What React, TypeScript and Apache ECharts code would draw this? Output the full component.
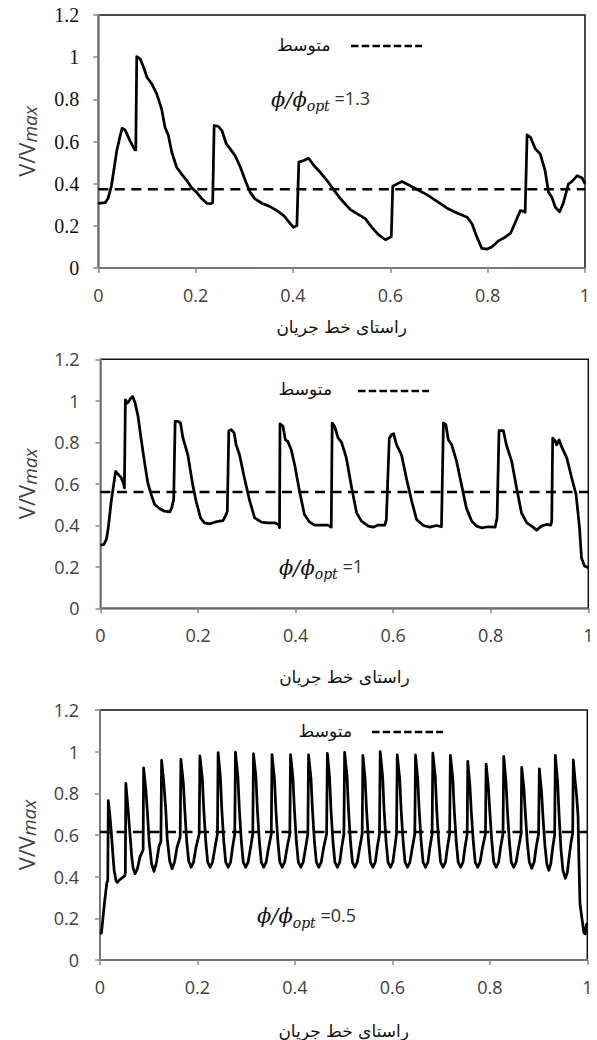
import React, { useEffect, useRef } from 'react';
import * as echarts from 'echarts';

// ---------- data ----------
const xTicks = [0, 0.2, 0.4, 0.6, 0.8, 1];
const yTicks = [0, 0.2, 0.4, 0.6, 0.8, 1, 1.2];
const xAxisTitle = 'راستای خط جریان';
const legendLabel = 'متوسط';
const phiRatios = ['1.3', '1', '0.5'];
const meanValues = [0.374, 0.56, 0.615];

const seriesPhi13: number[][] = [
  [0, 0.307], [0.014, 0.31], [0.02, 0.33], [0.027, 0.39], [0.033, 0.48], [0.038, 0.557], [0.045, 0.628], [0.049, 0.663],
  [0.055, 0.655], [0.065, 0.604], [0.075, 0.56], [0.077, 0.56], [0.079, 1.003], [0.086, 0.992], [0.093, 0.952], [0.1, 0.905],
  [0.11, 0.873], [0.12, 0.826], [0.13, 0.755], [0.137, 0.668], [0.144, 0.628], [0.151, 0.549], [0.161, 0.478], [0.172, 0.443],
  [0.182, 0.415], [0.192, 0.38], [0.202, 0.359], [0.213, 0.328], [0.223, 0.307], [0.231, 0.305], [0.235, 0.31], [0.238, 0.676],
  [0.247, 0.671], [0.254, 0.652], [0.263, 0.589], [0.271, 0.565], [0.281, 0.533], [0.292, 0.478], [0.302, 0.415], [0.312, 0.359],
  [0.322, 0.328], [0.336, 0.307], [0.353, 0.291], [0.367, 0.272], [0.381, 0.248], [0.395, 0.209], [0.401, 0.193], [0.408, 0.201],
  [0.412, 0.502], [0.422, 0.51], [0.432, 0.521], [0.443, 0.486], [0.456, 0.454], [0.47, 0.415], [0.484, 0.37], [0.497, 0.33],
  [0.504, 0.312], [0.518, 0.277], [0.535, 0.253], [0.549, 0.233], [0.562, 0.193], [0.576, 0.157], [0.59, 0.134], [0.6, 0.146],
  [0.602, 0.148], [0.605, 0.388], [0.614, 0.399], [0.624, 0.41], [0.638, 0.394], [0.655, 0.372], [0.675, 0.348], [0.696, 0.316],
  [0.716, 0.285], [0.737, 0.261], [0.758, 0.241], [0.768, 0.209], [0.778, 0.146], [0.788, 0.093], [0.799, 0.09], [0.809, 0.101],
  [0.823, 0.13], [0.836, 0.146], [0.847, 0.165], [0.857, 0.217], [0.867, 0.272], [0.875, 0.269], [0.877, 0.264], [0.881, 0.631],
  [0.888, 0.62], [0.898, 0.565], [0.908, 0.541], [0.918, 0.462], [0.925, 0.359], [0.932, 0.335], [0.939, 0.288], [0.948, 0.267],
  [0.956, 0.312], [0.966, 0.399], [0.973, 0.41], [0.984, 0.438], [0.994, 0.427], [1.0, 0.399],
];

const seriesPhi10: number[][] = [
  [0, 0.304], [0.007, 0.308], [0.012, 0.332], [0.016, 0.388], [0.022, 0.516], [0.027, 0.596], [0.031, 0.66], [0.036, 0.647],
  [0.042, 0.631], [0.047, 0.604], [0.049, 0.58], [0.051, 1.005], [0.055, 0.989], [0.058, 0.997], [0.062, 1.013], [0.066, 1.021],
  [0.071, 0.989], [0.077, 0.925], [0.083, 0.821], [0.09, 0.708], [0.097, 0.604], [0.104, 0.548], [0.111, 0.5], [0.121, 0.481],
  [0.131, 0.468], [0.142, 0.465], [0.146, 0.484], [0.15, 0.524], [0.153, 0.901], [0.159, 0.901], [0.164, 0.893], [0.169, 0.821],
  [0.179, 0.74], [0.189, 0.596], [0.196, 0.516], [0.205, 0.436], [0.213, 0.412], [0.224, 0.407], [0.234, 0.415], [0.244, 0.42],
  [0.251, 0.423], [0.256, 0.444], [0.26, 0.468], [0.263, 0.856], [0.268, 0.861], [0.274, 0.845], [0.278, 0.788], [0.285, 0.74],
  [0.295, 0.628], [0.306, 0.516], [0.316, 0.436], [0.33, 0.415], [0.343, 0.412], [0.357, 0.412], [0.365, 0.404], [0.367, 0.388],
  [0.368, 0.889], [0.374, 0.877], [0.379, 0.812], [0.384, 0.804], [0.391, 0.764], [0.398, 0.692], [0.408, 0.564], [0.418, 0.452],
  [0.429, 0.415], [0.439, 0.401], [0.453, 0.401], [0.466, 0.401], [0.473, 0.391], [0.475, 0.893], [0.48, 0.877], [0.487, 0.821],
  [0.494, 0.801], [0.5, 0.756], [0.504, 0.724], [0.515, 0.58], [0.525, 0.46], [0.535, 0.42], [0.549, 0.396], [0.559, 0.391],
  [0.569, 0.401], [0.583, 0.401], [0.586, 0.428], [0.592, 0.82], [0.597, 0.837], [0.601, 0.841], [0.607, 0.788], [0.617, 0.74],
  [0.627, 0.628], [0.638, 0.516], [0.648, 0.428], [0.662, 0.399], [0.675, 0.391], [0.689, 0.399], [0.699, 0.393], [0.703, 0.893],
  [0.708, 0.885], [0.713, 0.812], [0.72, 0.788], [0.73, 0.708], [0.74, 0.596], [0.75, 0.484], [0.761, 0.42], [0.771, 0.396],
  [0.781, 0.388], [0.795, 0.393], [0.809, 0.391], [0.813, 0.436], [0.817, 0.856], [0.826, 0.856], [0.832, 0.788], [0.843, 0.708],
  [0.853, 0.58], [0.863, 0.46], [0.874, 0.412], [0.884, 0.396], [0.894, 0.377], [0.904, 0.396], [0.914, 0.404], [0.923, 0.401],
  [0.925, 0.42], [0.927, 0.82], [0.932, 0.808], [0.935, 0.788], [0.94, 0.812], [0.945, 0.78], [0.956, 0.724], [0.966, 0.628],
  [0.975, 0.548], [0.982, 0.388], [0.986, 0.244], [0.992, 0.204], [1.0, 0.196],
];

const seriesPhi05: number[][] = [
  [0, 0.125], [0.003, 0.13], [0.006, 0.2], [0.009, 0.27], [0.012, 0.33], [0.014, 0.37], [0.016, 0.38],
  [0.017, 0.765], [0.02, 0.7], [0.023, 0.62], [0.026, 0.52], [0.029, 0.43], [0.033, 0.38], [0.0355, 0.372], [0.04, 0.385], [0.046, 0.395], [0.051, 0.405], [0.052, 0.42],
  [0.053, 0.848], [0.057, 0.74], [0.061, 0.62], [0.065, 0.5], [0.068, 0.44], [0.072, 0.414], [0.077, 0.44], [0.082, 0.495], [0.087, 0.52], [0.0885, 0.53],
  [0.0895, 0.922], [0.094, 0.82], [0.097, 0.72], [0.101, 0.565], [0.106, 0.46], [0.111, 0.425], [0.116, 0.47], [0.121, 0.545], [0.125, 0.57],
  [0.1264, 0.958], [0.131, 0.85], [0.135, 0.72], [0.138, 0.58], [0.143, 0.475], [0.148, 0.438], [0.153, 0.47], [0.158, 0.54], [0.1645, 0.59],
  [0.166, 0.963], [0.171, 0.85], [0.174, 0.72], [0.178, 0.57], [0.182, 0.475], [0.187, 0.445], [0.192, 0.47], [0.197, 0.54], [0.2035, 0.605],
  [0.205, 0.98], [0.21, 0.87], [0.213, 0.72], [0.217, 0.57], [0.221, 0.47], [0.226, 0.445], [0.231, 0.47], [0.236, 0.54], [0.241, 0.605],
  [0.2424, 0.995], [0.247, 0.88], [0.25, 0.72], [0.254, 0.57], [0.258, 0.47], [0.263, 0.445], [0.268, 0.47], [0.272, 0.54], [0.2765, 0.605],
  [0.278, 0.998], [0.283, 0.88], [0.286, 0.72], [0.29, 0.57], [0.294, 0.47], [0.299, 0.445], [0.304, 0.47], [0.309, 0.54], [0.3135, 0.605],
  [0.315, 0.99], [0.32, 0.88], [0.323, 0.72], [0.327, 0.57], [0.331, 0.47], [0.336, 0.445], [0.341, 0.47], [0.346, 0.54], [0.3515, 0.605],
  [0.353, 0.986], [0.358, 0.87], [0.361, 0.72], [0.365, 0.57], [0.369, 0.47], [0.374, 0.445], [0.379, 0.47], [0.384, 0.54], [0.3895, 0.605],
  [0.391, 0.986], [0.396, 0.87], [0.399, 0.72], [0.403, 0.57], [0.407, 0.47], [0.412, 0.445], [0.417, 0.47], [0.422, 0.54], [0.4265, 0.605],
  [0.428, 0.985], [0.433, 0.87], [0.436, 0.72], [0.44, 0.57], [0.444, 0.47], [0.449, 0.445], [0.454, 0.47], [0.459, 0.54], [0.465, 0.605],
  [0.4666, 0.992], [0.471, 0.88], [0.474, 0.72], [0.478, 0.57], [0.482, 0.47], [0.487, 0.445], [0.492, 0.47], [0.496, 0.54], [0.5005, 0.605],
  [0.502, 0.997], [0.507, 0.88], [0.51, 0.72], [0.514, 0.57], [0.518, 0.47], [0.523, 0.445], [0.528, 0.47], [0.533, 0.54], [0.538, 0.605],
  [0.5395, 0.982], [0.544, 0.87], [0.547, 0.72], [0.551, 0.57], [0.555, 0.47], [0.56, 0.445], [0.565, 0.47], [0.569, 0.54], [0.5735, 0.605],
  [0.575, 1.0], [0.58, 0.88], [0.583, 0.72], [0.587, 0.57], [0.591, 0.47], [0.596, 0.445], [0.601, 0.47], [0.605, 0.54], [0.6085, 0.605],
  [0.61, 0.985], [0.615, 0.87], [0.618, 0.72], [0.622, 0.57], [0.626, 0.47], [0.631, 0.445], [0.636, 0.47], [0.641, 0.54], [0.646, 0.605],
  [0.6475, 0.984], [0.652, 0.87], [0.655, 0.72], [0.659, 0.57], [0.663, 0.47], [0.668, 0.445], [0.673, 0.47], [0.677, 0.54], [0.6815, 0.605],
  [0.683, 0.993], [0.688, 0.88], [0.691, 0.72], [0.695, 0.57], [0.699, 0.47], [0.704, 0.445], [0.709, 0.47], [0.713, 0.54], [0.7175, 0.605],
  [0.719, 0.982], [0.724, 0.87], [0.727, 0.72], [0.731, 0.57], [0.735, 0.47], [0.74, 0.445], [0.745, 0.47], [0.749, 0.54], [0.7535, 0.605],
  [0.7547, 0.953], [0.759, 0.84], [0.762, 0.71], [0.766, 0.57], [0.77, 0.47], [0.775, 0.445], [0.78, 0.47], [0.785, 0.54], [0.791, 0.605],
  [0.7924, 0.94], [0.797, 0.83], [0.8, 0.71], [0.804, 0.57], [0.808, 0.47], [0.813, 0.445], [0.818, 0.47], [0.822, 0.54], [0.827, 0.605],
  [0.8285, 0.977], [0.833, 0.86], [0.836, 0.72], [0.84, 0.57], [0.844, 0.47], [0.849, 0.445], [0.854, 0.47], [0.859, 0.54], [0.864, 0.605],
  [0.8654, 0.925], [0.87, 0.82], [0.873, 0.7], [0.877, 0.56], [0.881, 0.47], [0.886, 0.44], [0.891, 0.47], [0.895, 0.54], [0.9, 0.605],
  [0.9016, 0.917], [0.906, 0.81], [0.909, 0.69], [0.913, 0.55], [0.917, 0.46], [0.921, 0.43], [0.925, 0.46], [0.929, 0.54], [0.933, 0.6],
  [0.9344, 0.982], [0.939, 0.86], [0.942, 0.7], [0.946, 0.53], [0.95, 0.43], [0.955, 0.392], [0.959, 0.42], [0.963, 0.5], [0.967, 0.57], [0.97, 0.61],
  [0.9713, 0.96], [0.975, 0.86], [0.978, 0.79], [0.981, 0.69], [0.983, 0.45], [0.985, 0.27], [0.989, 0.2], [0.993, 0.13], [0.996, 0.125], [0.998, 0.17], [1.0, 0.175],
];

const allSeries = [seriesPhi13, seriesPhi10, seriesPhi05];

// ---------- layout ----------
const grids = [
  { left: 98.3, top: 15, width: 486.7, height: 253 },
  { left: 100.5, top: 359.3, width: 487.8, height: 249 },
  { left: 100, top: 710, width: 487.3, height: 251.7 },
];
const legendPos = [
  { textRight: 330.5, textY: 45, x1: 351, x2: 422, y: 46 },
  { textRight: 332, textY: 389, x1: 358, x2: 429, y: 391 },
  { textRight: 352, textY: 731, x1: 372, x2: 443, y: 732 },
];
const notePos = [
  { x: 271, y: 101 },
  { x: 279, y: 569 },
  { x: 257, y: 917.5 },
];
const xNameGap = [50, 60, 62];
const yNameGap = [56, 59, 56];

const fmt = (v: number) => String(Math.round(v * 10) / 10);

const SANS = 'Open Sans, sans-serif';
const SERIF = 'Liberation Serif, Times New Roman, serif';
const ARABIC = 'DejaVu Sans, sans-serif';
const MATH = 'DejaVu Serif, serif';

export default function App() {
  const ref = useRef<HTMLDivElement>(null);
  useEffect(() => {
    document.body.style.margin = '0';
    if (!ref.current) return;
    const chart = echarts.init(ref.current, undefined, { renderer: 'svg' });
    const grayText = '#404040';

    const option: any = {
      animation: false,
      backgroundColor: '#ffffff',
      grid: grids.map((g) => ({ ...g, show: true, borderColor: '#111', borderWidth: 1.5, backgroundColor: 'transparent', containLabel: false })),
      xAxis: grids.map((_, i) => ({
        type: 'value', gridIndex: i, min: xTicks[0], max: xTicks[xTicks.length - 1], interval: 0.2,
        axisLine: { show: true, onZero: false, lineStyle: { color: '#878787', width: 1.5 } },
        axisTick: { show: true, length: 5, lineStyle: { color: '#878787', width: 1.5 } },
        splitLine: { show: false },
        axisLabel: { show: true, margin: 18, fontSize: 18, color: grayText, fontFamily: SANS, formatter: fmt },
        name: xAxisTitle, nameLocation: 'middle', nameGap: xNameGap[i],
        nameTextStyle: { fontSize: 17, color: '#111', fontFamily: ARABIC },
      })),
      yAxis: grids.map((_, i) => ({
        type: 'value', gridIndex: i, min: yTicks[0], max: yTicks[yTicks.length - 1], interval: 0.2,
        axisLine: { show: true, onZero: false, lineStyle: { color: '#878787', width: 1.5 } },
        axisTick: { show: true, length: 5, lineStyle: { color: '#878787', width: 1.5 } },
        splitLine: { show: false },
        axisLabel: {
          show: true,
          margin: i === 0 ? 19 : 21,
          fontSize: i === 0 ? 20 : 18,
          color: i === 0 ? '#111' : grayText,
          fontFamily: i === 0 ? SERIF : SANS,
          formatter: fmt,
        },
        name: '{a|V/V}{b|max}', nameLocation: 'middle', nameGap: yNameGap[i],
        nameTextStyle: {
          color: grayText,
          rich: {
            a: { fontFamily: SANS, fontSize: 22, color: grayText, lineHeight: 24, padding: [0, 0, 6, 0], verticalAlign: 'top' },
            b: { fontFamily: SANS, fontStyle: 'italic', fontSize: 19, color: grayText, lineHeight: 20, verticalAlign: 'bottom' },
          },
        },
      })),
      series: [
        ...allSeries.map((d, i) => ({
          type: 'line', xAxisIndex: i, yAxisIndex: i, data: d, symbol: 'none', smooth: false,
          lineStyle: { color: '#000', width: 2.75, join: 'round' }, z: 3,
        })),
        ...meanValues.map((m, i) => ({
          type: 'line', name: legendLabel, xAxisIndex: i, yAxisIndex: i, data: [[0, m], [1, m]], symbol: 'none',
          lineStyle: { color: '#000', width: 2.5, type: [10, 6.5] }, z: 4,
        })),
      ],
      graphic: [
        ...legendPos.flatMap((p) => [
          { type: 'text', x: p.textRight, y: p.textY, style: { text: legendLabel, fontSize: 17, fontFamily: ARABIC, fill: '#111', align: 'right', verticalAlign: 'middle' } },
          { type: 'line', shape: { x1: p.x1, y1: p.y, x2: p.x2, y2: p.y }, style: { stroke: '#000', lineWidth: 2.5, lineDash: [7.5, 3.2] } },
        ]),
        ...notePos.map((p, i) => ({
          type: 'text', x: p.x, y: p.y,
          style: {
            text: '{p|ϕ/ϕ}{s|opt}{e| =' + phiRatios[i] + '}',
            verticalAlign: 'middle', align: 'left',
            rich: {
              p: { fontFamily: MATH, fontStyle: 'italic', fontSize: 21, fill: '#111', lineHeight: 24, padding: [0, 0, 5, 0], verticalAlign: 'top' },
              s: { fontFamily: MATH, fontStyle: 'italic', fontSize: 14, fill: '#111', lineHeight: 16, verticalAlign: 'bottom' },
              e: { fontFamily: SANS, fontSize: 18, fill: '#333', lineHeight: 24, padding: [0, 0, 5, 0], verticalAlign: 'top' },
            },
          },
        })),
      ],
    };
    chart.setOption(option);
    return () => chart.dispose();
  }, []);
  return <div ref={ref} style={{ width: 597, height: 1040 }} />;
}
